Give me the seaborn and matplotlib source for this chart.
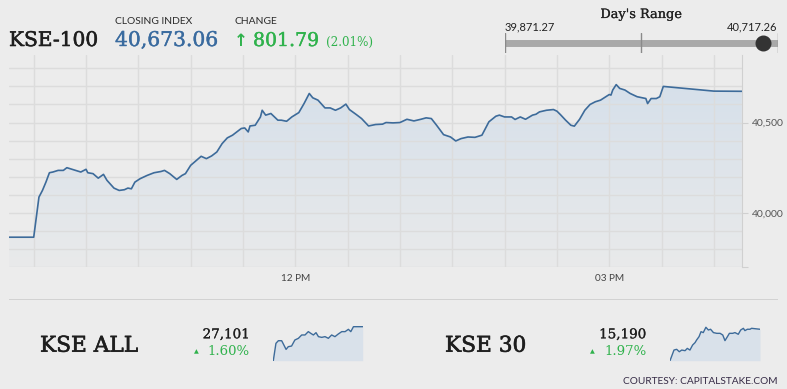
import numpy as np
import pandas as pd
import seaborn as sns
import matplotlib.pyplot as plt
import matplotlib.patheffects as pe
from matplotlib.colors import LinearSegmentedColormap

# KSE-100 intraday (time, index level)
times = ["09:16", "09:30", "09:33", "09:35", "09:37", "09:39", "09:41", "09:44", "09:47", "09:49",
         "09:51", "09:54", "09:57", "10:00", "10:01", "10:04", "10:07", "10:10", "10:12", "10:16",
         "10:19", "10:22", "10:24", "10:26", "10:28", "10:31", "10:35", "10:39", "10:43", "10:45",
         "10:48", "10:52", "10:55", "10:57", "11:00", "11:04", "11:06", "11:09", "11:12", "11:15",
         "11:18", "11:21", "11:24", "11:27", "11:29", "11:31", "11:33", "11:34", "11:37", "11:40",
         "11:41", "11:43", "11:46", "11:50", "11:52", "11:55", "11:58", "12:02", "12:05", "12:08",
         "12:10", "12:13", "12:17", "12:20", "12:23", "12:26", "12:29", "12:31", "12:35", "12:38",
         "12:42", "12:46", "12:50", "12:52", "12:56", "13:00", "13:04", "13:08", "13:12", "13:15",
         "13:18", "13:21", "13:25", "13:29", "13:32", "13:35", "13:39", "13:43", "13:47", "13:51",
         "13:55", "13:57", "14:00", "14:04", "14:06", "14:09", "14:12", "14:16", "14:18", "14:20",
         "14:24", "14:28", "14:30", "14:32", "14:35", "14:38", "14:40", "14:43", "14:46", "14:49",
         "14:52", "14:55", "14:58", "15:00", "15:01", "15:02", "15:04", "15:06", "15:09", "15:12",
         "15:16", "15:19", "15:21", "15:22", "15:24", "15:27", "15:29", "15:31", "16:00", "16:16"]
kse100 = [39865, 39865, 40087, 40124, 40170, 40222, 40226, 40235, 40235, 40250,
          40244, 40235, 40226, 40241, 40222, 40217, 40192, 40213, 40180, 40137,
          40124, 40128, 40137, 40133, 40170, 40189, 40207, 40222, 40229, 40235,
          40217, 40185, 40207, 40217, 40263, 40296, 40313, 40300, 40315, 40337,
          40383, 40415, 40430, 40452, 40467, 40470, 40448, 40481, 40485, 40531,
          40568, 40541, 40550, 40513, 40513, 40507, 40531, 40555, 40605, 40661,
          40637, 40624, 40581, 40581, 40568, 40581, 40602, 40572, 40544, 40522,
          40481, 40489, 40491, 40500, 40498, 40500, 40518, 40509, 40518, 40526,
          40522, 40485, 40433, 40420, 40398, 40411, 40420, 40418, 40430, 40504,
          40535, 40541, 40531, 40531, 40517, 40531, 40518, 40541, 40546, 40559,
          40568, 40572, 40563, 40544, 40513, 40485, 40480, 40518, 40568, 40600,
          40615, 40624, 40643, 40655, 40652, 40680, 40710, 40689, 40680, 40661,
          40643, 40637, 40633, 40605, 40633, 40633, 40643, 40700, 40674, 40673]

# sparklines (minutes after midnight, level)
all_t = [570, 582, 593, 608, 618, 628, 638, 653, 668, 684, 699, 714, 729, 740, 752,
         764, 775, 790, 805, 820, 835, 850, 865, 881, 896, 911, 922, 934, 976]
kse_all = [26670, 26888, 26921, 26921, 26867, 26812, 26846, 26854, 26930, 26951, 26993, 26993,
           27035, 27014, 26993, 27022, 26972, 26963, 26972, 26951, 26993, 26972, 27005, 27035,
           27035, 27064, 27035, 27097, 27097]
k30_t = [570, 588, 600, 612, 623, 638, 648, 660, 672, 683, 690, 701, 710, 720, 732, 743, 753,
         766, 781, 796, 808, 818, 829, 838, 853, 863, 878, 889, 901, 908, 919, 931, 938, 976]
kse30 = [14880, 14982, 14989, 14966, 14982, 14976, 14998, 14982, 15030, 15053, 15078, 15110,
         15158, 15149, 15200, 15174, 15181, 15149, 15142, 15142, 15126, 15072, 15110, 15142,
         15142, 15149, 15133, 15174, 15190, 15168, 15181, 15181, 15190, 15181]

day_low, day_high, close = 39871.27, 40717.26, 40673.06
y_ticks = [40000, 40500]
x_ticks = [720, 900]
x_labels = ["12 PM", "03 PM"]

BG = "#ececec"
GRID = "#dcdcdc"
LINE = "#3d6b9a"
GREEN = "#2fb24c"
SERIF = ["DejaVu Serif"]
SANS = ["Lato", "DejaVu Sans"]

sns.set_style("white")
plt.rcParams["font.family"] = SANS

W, H = 787, 389
fig = plt.figure(figsize=(W / 100, H / 100), dpi=100, facecolor=BG)


def px_axes(x0, y0, x1, y1):
    a = fig.add_axes([x0 / W, 1 - y1 / H, (x1 - x0) / W, (y1 - y0) / H])
    a.set_facecolor("none")
    return a


def ftext(x, y, s, heavy=0, **kw):
    t = fig.text(x / W, 1 - y / H, s, **kw)
    if heavy:
        # serif headings in the original are a bit heavier than DejaVu Serif Book
        t.set_path_effects([pe.withStroke(linewidth=heavy, foreground=kw.get("color", "k"))])
    return t


df = pd.DataFrame({"time": times, "value": kse100})
hm = df["time"].str.split(":", expand=True).astype(int)
df["minute"] = hm[0] * 60 + hm[1]

# main chart
ax = px_axes(9.3, 55, 742.3, 267)
xmin, xmax = 556, 976.3
ymin, ymax = 39700, 40874
for gx in range(570, 975, 30):
    ax.axvline(gx, color=GRID, lw=1, zorder=2)
for gy in range(39700, 40900, 100):
    ax.axhline(gy, color=GRID, lw=1, zorder=2)

poly = ax.fill_between(df["minute"], df["value"], ymin, color="none", lw=0)
cm = LinearSegmentedColormap.from_list("g", ["#e9eaeb", "#d6e0ea"])
img = ax.imshow(np.linspace(0, 1, 200)[:, None], cmap=cm, origin="lower", aspect="auto",
                extent=[xmin, xmax, ymin, 40720], zorder=1)
img.set_clip_path(poly.get_paths()[0], transform=ax.transData)
sns.lineplot(data=df, x="minute", y="value", ax=ax, color=LINE, lw=1.2, zorder=3)
ax.set_xlim(xmin, xmax)
ax.set_ylim(ymin, ymax)
ax.set_xlabel("")
ax.set_ylabel("")
for s in ["top", "left", "bottom"]:
    ax.spines[s].set_visible(False)
ax.spines["right"].set_color("#d0d0d0")
ax.yaxis.tick_right()
ax.set_yticks([39700] + y_ticks)
ax.set_yticklabels([""] + [f"{v:,}" for v in y_ticks])
ax.tick_params(axis="y", length=4, color="#d0d0d0", labelsize=7.5, labelcolor="#555555", pad=3)
ax.set_xticks(x_ticks)
ax.set_xticklabels(x_labels)
ax.tick_params(axis="x", length=0, labelsize=7.2, labelcolor="#444444", pad=5)

# header
ftext(9, 46, "KSE-100", heavy=0.4, family=SERIF, fontsize=14.5, color="#1e1e1e", va="baseline")
ftext(115, 24, "CLOSING INDEX", fontsize=7.4, color="#2b2b2b", va="baseline")
ftext(115, 46, f"{close:,.2f}", heavy=0.3, family=SERIF, fontsize=14.6, color="#3a6b9f",
      va="baseline")
ftext(235, 24, "CHANGE", fontsize=7.4, color="#2b2b2b", va="baseline")
ftext(234, 46, "\u2191", family=["DejaVu Sans"], fontsize=12, color=GREEN, va="baseline",
      weight="bold")
ftext(253, 46, "801.79", heavy=0.3, family=SERIF, fontsize=13.6, color=GREEN, va="baseline")
ftext(326, 46, "(2.01%)", family=SERIF, fontsize=8.6, color=GREEN, va="baseline")

ftext(641, 18, "Day's Range", heavy=0.15, family=SERIF, fontsize=9.3, color="#222222",
      va="baseline", ha="center")
ftext(505, 30, f"{day_low:,.2f}", fontsize=8, color="#222222", va="baseline")
ftext(777.7, 30, f"{day_high:,.2f}", fontsize=8, color="#222222", va="baseline", ha="right")

rax = px_axes(505, 33.3, 777.7, 53.3)
rax.set_xlim(day_low, day_high)
rax.set_ylim(-1, 1)
rax.axis("off")
rax.plot([day_low, day_high], [0, 0], color="#a9a9a9", lw=5, solid_capstyle="butt")
for v in [day_low, (day_low + day_high) / 2, day_high]:
    rax.axvline(v, color="#8a8a8a", lw=1)
rax.plot([close], [0], "o", ms=10.5, color="#333333")

# separator
lax = px_axes(9.3, 297, 777.7, 300)
lax.axis("off")
lax.axhline(0, color="#cdcdcd", lw=1.2)

# bottom tiles
tiles = [("KSE ALL", "27,101", "1.60%", all_t, kse_all, (26670, 27112), 40, 250, 273.3, 362.7),
         ("KSE 30", "15,190", "1.97%", k30_t, kse30, (14880, 15217), 445, 646.5, 670, 760)]
for name, level, pct, tt, vv, ylim, xn, xr, s0, s1 in tiles:
    ftext(xn, 351.7, name, heavy=0.45, family=SERIF, fontsize=15.6, color="#1e1e1e",
          va="baseline")
    ftext(xr, 338.3, level, heavy=0.15, family=SERIF, fontsize=9.7, color="#1e1e1e",
          va="baseline", ha="right")
    ftext(xr, 355, pct, family=SERIF, fontsize=9.5, color=GREEN, va="baseline", ha="right")
    ftext(xr - 54, 353.5, "\u25b2", family=["DejaVu Sans"], fontsize=4.5, color=GREEN,
          va="baseline", ha="center")
    sax = px_axes(s0, 325.5, s1, 360.7)
    sax.fill_between(tt, vv, ylim[0], color="#d9e1ea", lw=0)
    sns.lineplot(x=tt, y=vv, ax=sax, color=LINE, lw=1)
    sax.set_xlim(tt[0], tt[-1])
    sax.set_ylim(*ylim)
    sax.axis("off")

ftext(777.7, 384.3, "COURTESY: CAPITALSTAKE.COM", fontsize=7.3, color="#352a45",
      va="baseline", ha="right")

fig.savefig("out.png", dpi=100, facecolor=BG)
